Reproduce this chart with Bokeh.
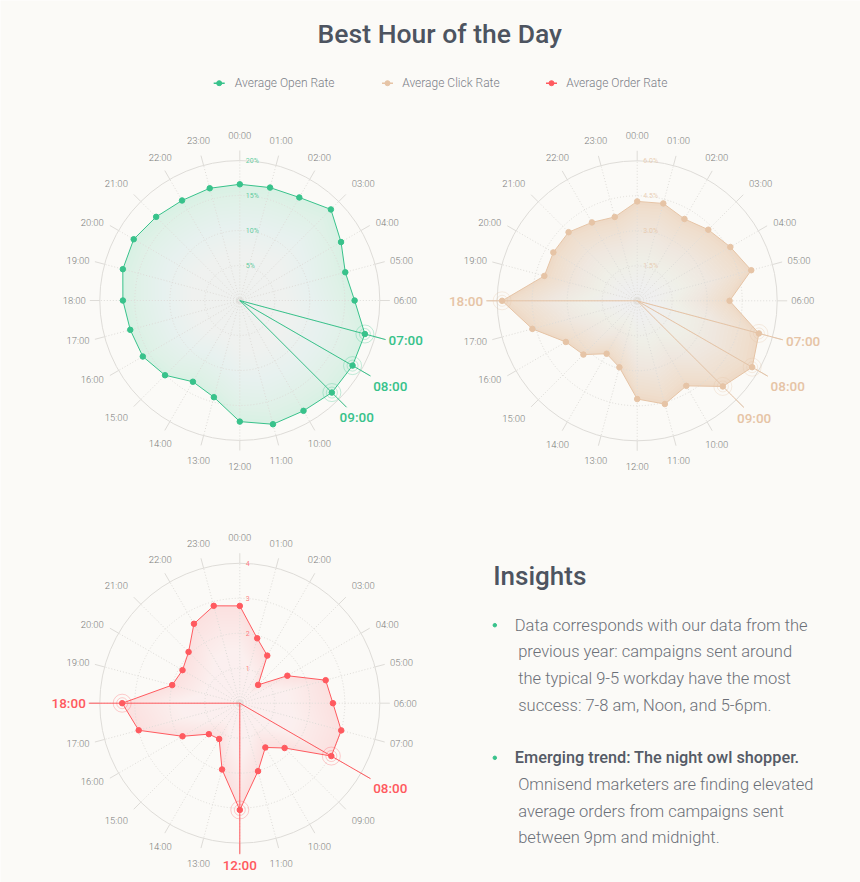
import numpy as np
from bokeh.plotting import figure
from bokeh.models import Range1d
from bokeh.core.properties import value
from bokeh.embed import file_html
from bokeh.resources import INLINE

# ---- data ----
hours = ["%02d:00" % h for h in range(24)]
open_rate = [16.6, 16.7, 17.0, 18.4, 16.7, 15.6, 16.4, 18.5, 18.6, 18.6, 18.2, 18.3,
             17.3, 14.3, 13.4, 15.1, 16.0, 16.2, 16.7, 17.3, 17.5, 16.9, 16.5, 16.6]
click_rate = [4.26, 4.32, 4.05, 4.31, 4.61, 5.06, 3.96, 5.40, 5.69, 5.19, 4.21, 4.58,
              4.21, 2.95, 2.62, 3.26, 3.53, 4.65, 5.79, 4.12, 4.15, 4.16, 3.88, 3.72]
order_rate = [2.78, 1.92, 1.57, 0.74, 1.57, 2.54, 2.66, 3.00, 3.02, 1.81, 1.46, 2.01,
              3.05, 1.96, 1.18, 1.25, 1.89, 2.99, 3.36, 2.00, 1.89, 2.07, 2.62, 2.88]

open_ticks = [5, 10, 15, 20]
open_tick_labels = ["5%", "10%", "15%", "20%"]
click_ticks = [1.5, 3.0, 4.5, 6.0]
click_tick_labels = ["1.5%", "3.0%", "4.5%", "6.0%"]
order_ticks = [1, 2, 3, 4]
order_tick_labels = ["1", "2", "3", "4"]

open_peaks = ["07:00", "08:00", "09:00"]
click_peaks = ["07:00", "08:00", "09:00", "18:00"]
order_peaks = ["08:00", "12:00", "18:00"]

series_names = ["Average Open Rate", "Average Click Rate", "Average Order Rate"]

insight_1 = ["Data corresponds with our data from the",
             "previous year: campaigns sent around",
             "the typical 9-5 workday have the most",
             "success: 7-8 am, Noon, and 5-6pm."]
insight_2_head = "Emerging trend: The night owl shopper."
insight_2 = ["Omnisend marketers are finding elevated",
             "average orders from campaigns sent",
             "between 9pm and midnight."]

# ---- style ----
BG = "#fbfaf7"
GREEN = "#38c28b"
BEIGE = "#e6c4a6"
RED = "#ff5a5f"
DARK = "#4d5460"
GREY = "#7a7a7a"
GRID = "#dedcd8"
FONT = value("Roboto")
FONT_MED = value("'Roboto Medium', Roboto")
FONT_LIGHT = value("'Roboto Light', Roboto")
W, H = 860, 882
R = 140

p = figure(width=W, height=H, x_range=Range1d(0, W), y_range=Range1d(H, 0),
           x_axis_type=None, y_axis_type=None, output_backend="svg",
           toolbar_location=None, min_border=0)
p.grid.visible = False
p.outline_line_color = None
p.background_fill_color = BG
p.border_fill_color = BG


def align(dx, up, hthr, vthr):
    ha = "left" if dx > hthr else ("right" if dx < -hthr else "center")
    vb = "bottom" if up > vthr else ("top" if up < -vthr else "middle")
    return ha, vb


def radar(cx, cy, vals, vmax, color, ticks, tick_labels, peaks, fill_alpha):
    ang = np.radians(np.arange(24) * 15.0)
    sx, sy = np.sin(ang), -np.cos(ang)
    r = np.asarray(vals) / vmax * R
    xs, ys = cx + r * sx, cy + r * sy

    # radial gradient imitation: tinted area, washed towards the center
    p.patch(xs, ys, fill_color=color, fill_alpha=fill_alpha, line_color=None)
    for s in np.linspace(0.97, 0.03, 32):
        p.patch(cx + s * r * sx, cy + s * r * sy, fill_color="white",
                fill_alpha=0.06, line_color=None)

    # grid
    rings = [t / vmax * R for t in ticks]
    p.circle([cx] * 3, [cy] * 3, radius=rings[:3], fill_color=None,
             line_color=GRID, line_dash="1 2", line_width=1)
    p.circle([cx], [cy], radius=[R], fill_color=None, line_color=GRID, line_width=1)
    p.circle([cx], [cy], radius=[2.5], fill_color=None, line_color=GRID, line_width=1)
    p.segment(cx, cy, cx + R * sx, cy + R * sy, line_color=GRID, line_dash="1 2")
    p.segment(cx + R * sx, cy + R * sy, cx + 150 * sx, cy + 150 * sy, line_color=GRID)

    # value labels on the vertical axis
    p.text([cx + 6] * 4, [cy - rr for rr in rings], text=tick_labels,
           text_font=FONT, text_font_size="7px", text_color=color, text_alpha=0.8,
           text_align="left", text_baseline="middle")

    # hour labels
    for i, h in enumerate(hours):
        if h in peaks:
            continue
        rl = 154 + 6 * abs(np.cos(ang[i]))
        ha, vb = align(sx[i], -sy[i], 0.6, 0.6)
        p.text([cx + rl * sx[i]], [cy + rl * sy[i]], text=[h], text_font=FONT_LIGHT,
               text_font_size="9.5px", text_color=GREY, text_align=ha, text_baseline=vb)

    # series outline and points
    p.patch(xs, ys, fill_color=None, line_color=color, line_width=1)
    p.scatter(xs, ys, size=5.5, fill_color=color, line_color=color)

    # highlighted hours
    for h in peaks:
        i = hours.index(h)
        p.segment(cx, cy, cx + 151 * sx[i], cy + 151 * sy[i], line_color=color, line_width=1)
        p.circle([xs[i]] * 2, [ys[i]] * 2, radius=[5.5, 9], fill_color=None,
                 line_color=color, line_alpha=0.3, line_width=1)
        ha, vb = align(sx[i], -sy[i], 0.8, 0.4)
        nudge = 8 if ha == "center" and sx[i] > 0.3 else 0
        p.text([cx + 154 * sx[i] + nudge], [cy + 154 * sy[i]], text=[h], text_font=FONT_MED,
               text_font_size="13.5px", text_color=color,
               text_align=ha, text_baseline=vb)


radar(239.3, 300.0, open_rate, 20.0, GREEN, open_ticks, open_tick_labels, open_peaks, 0.17)
radar(636.7, 300.3, click_rate, 6.0, BEIGE, click_ticks, click_tick_labels, click_peaks, 0.6)
radar(239.3, 702.7, order_rate, 4.0, RED, order_ticks, order_tick_labels, order_peaks, 0.15)

# title
p.text([439.3], [33.3], text=["Best Hour of the Day"], text_font=FONT_MED,
       text_font_size="26.5px", text_color=DARK,
       text_align="center", text_baseline="middle")

# legend
for name, col, mx, tx in zip(series_names, [GREEN, BEIGE, RED],
                             [218.7, 387.0, 551.0], [234.3, 401.7, 565.7]):
    p.segment(mx - 5.5, 82.7, mx + 5.5, 82.7, line_color=col, line_width=1.5)
    p.scatter([mx], [82.7], size=5, fill_color=col, line_color=col)
    p.text([tx], [82.7], text=[name], text_font=FONT_LIGHT, text_font_size="12px",
           text_color="#7c8088", text_align="left", text_baseline="middle")

# insights
p.text([492.7], [575.0], text=["Insights"], text_font=FONT_MED, text_font_size="26px",
       text_color=DARK, text_align="left", text_baseline="middle")
step = 26.6
y1 = 624.7
y2 = 757.3
p.scatter([494.3, 494.3], [y1, y2], size=3.5, fill_color=GREEN, line_color=GREEN)
for k, line in enumerate(insight_1):
    p.text([514.3 if k == 0 else 517.7], [y1 + k * step], text=[line], text_font=FONT_LIGHT,
           text_font_size="16.5px", text_color="#6c7078", text_align="left",
           text_baseline="middle")
p.text([514.3], [y2], text=[insight_2_head], text_font=FONT_MED, text_font_size="16.3px",
       text_color="#555b66", text_align="left", text_baseline="middle")
for k, line in enumerate(insight_2):
    p.text([517.7], [y2 + (k + 1) * step], text=[line], text_font=FONT_LIGHT,
           text_font_size="16.5px", text_color="#6c7078", text_align="left",
           text_baseline="middle")

html = file_html(p, INLINE)
html = html.replace("<body>", '<body style="margin:0;background:%s">' % BG, 1)
open("out.html", "w").write(html)
